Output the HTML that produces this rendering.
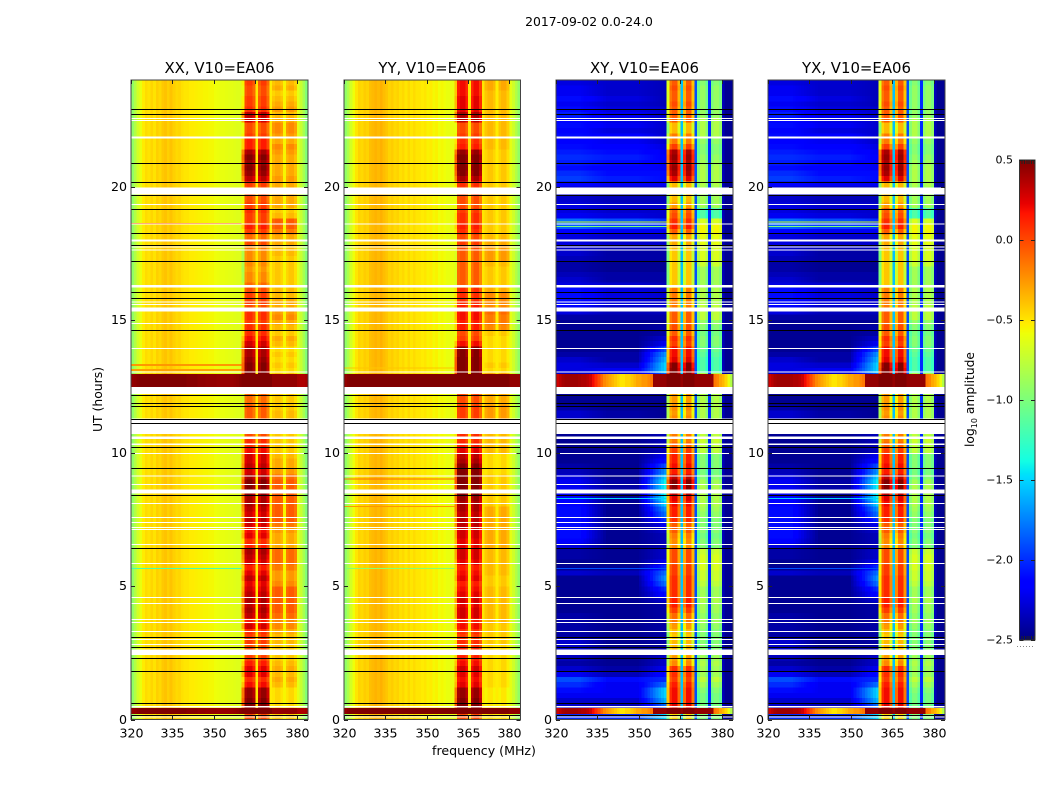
<!DOCTYPE html>
<html>
<head>
<meta charset="utf-8">
<title>2017-09-02 0.0-24.0</title>
<style>
html,body{margin:0;padding:0;background:#fff;width:1050px;height:800px;overflow:hidden}
svg{display:block;font-family:"DejaVu Sans","Liberation Sans",sans-serif;fill:#000}
</style>
</head>
<body>
<svg id="chart" xmlns="http://www.w3.org/2000/svg" width="1050" height="800" viewBox="0 0 1050 800">
  <text x="589" y="26" font-size="12.4" text-anchor="middle">2017-09-02 0.0-24.0</text>
  <text x="484" y="755" font-size="12.6" text-anchor="middle">frequency (MHz)</text>
  <text x="0" y="0" font-size="12.4" text-anchor="middle" transform="translate(102,399.5) rotate(-90)">UT (hours)</text>
  <text x="0" y="0" font-size="12.3" text-anchor="middle" transform="translate(974,399.5) rotate(-90)">log<tspan font-size="8" dy="3">10</tspan><tspan dy="-3"> amplitude</tspan></text>
  <g id="panels"></g>
  <g id="colorbar"></g>
</svg>
<script>
/* Time axis: rows of 0.2 h, five values per hour. Frequency: 64 channels of 1 MHz from 320 MHz. */
const xTickLabels = [320, 335, 350, 365, 380];
const yTickLabels = [0, 5, 10, 15, 20];
const colorbarTicks = [0.5, 0.0, -0.5, -1.0, -1.5, -2.0, -2.5];

const xxSpectrum = [
-0.92,-0.8,-0.68,-0.6,-0.52,-0.47,-0.49,-0.45,-0.49,-0.43,
-0.46,-0.41,-0.39,-0.43,-0.39,-0.43,-0.46,-0.45,-0.48,-0.5,
-0.5,-0.52,-0.52,-0.53,-0.54,-0.54,-0.55,-0.55,-0.56,-0.56,
-0.58,-0.59,-0.6,-0.6,-0.61,-0.62,-0.62,-0.63,-0.64,-0.64,
-0.5,0.05,0.1,0.1,0,-0.5,0,0.1,0.1,-0.05,
-0.52,-0.05,0,0,-0.05,-0.55,-0.05,0,0,-0.08,
-0.62,-0.72,-0.84,-0.98];
const yySpectrum = [
-0.92,-0.82,-0.68,-0.58,-0.5,-0.44,-0.46,-0.42,-0.44,-0.38,
-0.36,-0.34,-0.36,-0.33,-0.37,-0.4,-0.44,-0.42,-0.46,-0.44,
-0.48,-0.46,-0.5,-0.46,-0.5,-0.47,-0.5,-0.5,-0.52,-0.5,
-0.54,-0.52,-0.56,-0.54,-0.58,-0.56,-0.58,-0.6,-0.6,-0.6,
-0.5,0.05,0.1,0.1,0,-0.5,0,0.1,0.1,-0.05,
-0.5,-0.05,0,0,-0.05,-0.52,-0.05,0,0,-0.08,
-0.62,-0.7,-0.8,-0.92];
const crossSpectrum = [
0,0,0,0,0,0,0,0,0,0,0,0,0,0,0,0,0,0,0,0,
0,0,0,0,0,0,0,0,0,0,0,0,0,0,0,0,0,0,0,0,
-0.45,0.05,0.15,0.15,-0.15,-1.55,-0.15,0.15,0.15,-0.2,
-1.9,-0.1,0.05,0.05,-0.1,-2.0,-0.05,0.05,0.05,-0.05,
-2.35,-2.45,-2.45,-2.45];

const xxInner = [
-0.1,0.4,0.45,0.4,0.35,
0.35,0.1,0,0.15,0.15,
0.05,-0.05,-0.1,-0.1,-0.05,
-0.05,0,0.2,0.05,0.25,
0.3,0.25,0.3,0.25,0.2,
0.15,0.25,0.15,0.05,0.2,
0.25,0.3,0.05,0,0.15,
0.1,0.2,0.25,0.2,0.25,
0.3,0.3,0.35,0.4,0.4,
0.3,0.2,0.25,0.2,0.2,
0.1,0,0,-0.1,-0.1,
-0.2,-0.15,-0.15,-0.15,-0.2,
-0.2,-0.2,0.5,0.5,0.5,
0.4,0.4,0.35,0.3,0.3,
0.2,0.1,0,0,-0.05,
0,0,-0.1,-0.05,-0.05,
-0.1,-0.2,-0.3,-0.3,-0.35,
-0.3,-0.3,-0.3,-0.25,-0.1,
-0.2,-0.05,0.05,-0.05,-0.05,
0,-0.05,-0.1,-0.1,-0.1,
-0.05,0.25,0.35,0.4,0.35,
0.4,0.3,0.05,0.05,-0.05,
-0.1,-0.1,0.2,0.25,0,
-0.05,-0.05,-0.1,-0.1,-0.05];
const xxOuter = [
-0.4,0.3,-0.45,-0.45,-0.45,
-0.45,-0.35,-0.3,-0.35,-0.3,
-0.35,-0.4,-0.4,-0.4,-0.35,
-0.35,-0.3,-0.2,-0.2,-0.1,
-0.05,-0.05,-0.05,-0.05,-0.05,
-0.2,-0.25,-0.25,-0.15,-0.1,
-0.1,-0.1,-0.3,-0.3,-0.3,
-0.25,-0.15,-0.05,-0.05,-0.05,
-0.05,-0.05,-0.05,-0.05,-0.05,
-0.1,-0.25,-0.3,-0.3,-0.35,
-0.4,-0.4,-0.4,-0.4,-0.4,
-0.4,-0.35,-0.35,-0.4,-0.4,
-0.4,-0.4,-0.4,-0.4,-0.4,
-0.45,-0.4,-0.45,-0.4,-0.45,
-0.35,-0.3,-0.4,-0.35,-0.3,
-0.2,-0.25,-0.3,-0.3,-0.35,
-0.35,-0.4,-0.4,-0.4,-0.4,
-0.4,-0.4,-0.35,-0.35,-0.3,
-0.3,-0.15,-0.05,-0.05,-0.35,
-0.4,-0.3,-0.3,-0.3,-0.3,
-0.3,-0.25,-0.3,-0.3,-0.3,
-0.3,-0.25,-0.2,-0.3,-0.25,
-0.2,-0.2,-0.3,-0.35,-0.25,
-0.3,-0.35,-0.4,-0.3,-0.35];
const yyInner = [
-0.1,0.4,0.45,0.4,0.35,
0.35,0.15,0.1,0.15,0.2,
0.1,0.05,0,0,0,
-0.05,0,0.1,0.05,0.2,
0.2,0.15,0.2,0.15,0.1,
0.05,0.15,0.1,0.05,0.15,
0.2,0.2,0.15,0.15,0.2,
0.2,0.25,0.25,0.25,0.3,
0.3,0.35,0.4,0.45,0.45,
0.45,0.45,0.4,0.3,0.25,
0.15,0.05,0,0,-0.05,
-0.1,-0.05,-0.05,-0.05,-0.1,
-0.1,-0.1,0.5,0.5,0.5,
0.45,0.45,0.45,0.4,0.4,
0.1,-0.05,-0.1,0.05,0.05,
0.1,0.1,0.05,0,0,
0,-0.15,-0.15,-0.15,-0.15,
-0.15,-0.15,-0.15,-0.1,-0.05,
-0.1,0,0.05,0,0,
-0.05,-0.1,-0.1,-0.1,-0.05,
0,0.3,0.4,0.45,0.4,
0.45,0.35,0.05,0,-0.05,
-0.1,-0.1,0.25,0.3,0.15,
0.15,0.15,0.1,0.1,0.1];
const yyOuter = [
-0.45,0.3,-0.5,-0.5,-0.5,
-0.5,-0.45,-0.45,-0.45,-0.45,
-0.45,-0.45,-0.45,-0.45,-0.4,
-0.4,-0.4,-0.4,-0.35,-0.35,
-0.35,-0.35,-0.35,-0.35,-0.35,
-0.4,-0.4,-0.35,-0.35,-0.35,
-0.35,-0.35,-0.3,-0.3,-0.3,
-0.3,-0.3,-0.3,-0.3,-0.3,
-0.4,-0.4,-0.4,-0.4,-0.4,
-0.4,-0.45,-0.45,-0.45,-0.45,
-0.35,-0.35,-0.35,-0.35,-0.35,
-0.3,-0.25,-0.25,-0.25,-0.3,
-0.3,-0.3,-0.3,-0.3,-0.3,
-0.45,-0.4,-0.45,-0.45,-0.45,
-0.45,-0.45,-0.4,-0.2,-0.15,
-0.15,-0.1,-0.2,-0.2,-0.2,
-0.3,-0.4,-0.4,-0.4,-0.4,
-0.35,-0.25,-0.25,-0.25,-0.3,
-0.35,-0.4,-0.4,-0.4,-0.4,
-0.4,-0.4,-0.4,-0.4,-0.4,
-0.4,-0.4,-0.4,-0.4,-0.4,
-0.4,-0.4,-0.35,-0.35,-0.35,
-0.35,-0.35,-0.35,-0.35,-0.35,
-0.35,-0.35,-0.35,-0.3,-0.3];
const crossInner = [
-0.6,0.4,0.1,0.05,0.05,
0.05,0,-0.1,-0.05,-0.05,
-0.35,-0.4,-0.45,-0.5,-0.5,
-0.55,-0.5,-0.4,-0.3,-0.25,
-0.1,0,0,-0.05,-0.05,
-0.05,-0.05,-0.1,-0.1,-0.15,
-0.15,-0.15,-0.35,-0.35,-0.3,
-0.2,-0.2,-0.05,0,0,
0.05,0.1,0.2,0.35,0.35,
0.2,0,0.05,0,0,
-0.1,-0.2,-0.3,-0.3,-0.3,
-0.4,-0.35,-0.4,-0.35,-0.4,
-0.4,-0.4,0.5,0.5,0.5,
0.4,0.35,0.1,0.05,0.05,
-0.1,-0.05,-0.2,-0.15,-0.2,
-0.2,-0.2,-0.3,-0.3,-0.3,
-0.3,-0.55,-0.55,-0.55,-0.55,
-0.55,-0.55,-0.55,-0.5,-0.45,
-0.45,-0.2,0,-0.05,-0.15,
-0.2,-0.4,-0.5,-0.5,-0.5,
-0.5,0.1,0.25,0.3,0.25,
0.3,0.25,-0.1,-0.3,-0.3,
-0.5,-0.5,-0.2,-0.2,-0.2,
-0.15,-0.2,-0.2,-0.15,-0.2];
const crossOuter = [
-1.0,-0.6,-1.05,-1.05,-1.05,
-1.0,-0.9,-0.8,-0.9,-0.9,
-0.85,-0.9,-0.95,-1.0,-1.0,
-1.0,-1.0,-0.95,-0.9,-0.95,
-0.9,-0.9,-0.85,-0.9,-0.9,
-0.8,-0.75,-0.75,-0.7,-0.7,
-0.7,-0.75,-1.0,-1.0,-1.05,
-1.0,-1.0,-1.0,-0.95,-0.9,
-0.85,-0.85,-0.85,-0.85,-0.9,
-1.0,-1.05,-1.0,-1.0,-1.0,
-0.8,-0.8,-0.75,-0.8,-0.8,
-0.85,-0.85,-0.85,-0.85,-0.85,
-0.85,-0.85,-0.85,-0.85,-0.85,
-1.2,-1.2,-1.2,-1.15,-1.1,
-1.0,-1.0,-1.05,-1.0,-0.95,
-0.8,-0.8,-0.8,-0.85,-0.85,
-0.85,-0.9,-0.9,-0.9,-0.9,
-0.75,-0.7,-0.7,-0.7,-0.65,
-0.65,-0.6,-0.6,-0.7,-1.2,
-1.2,-0.9,-0.9,-0.9,-0.9,
-0.85,-0.85,-0.85,-0.85,-0.9,
-0.95,-1.0,-1.0,-0.95,-0.85,
-0.85,-0.85,-0.85,-0.95,-0.95,
-0.95,-0.95,-0.95,-0.95,-1.0];
const crossLow = [
-2.0,-1.2,-2.3,-2.3,-2.2,
-2.1,-2.0,-1.9,-2.2,-2.3,
-2.4,-2.35,-2.3,-2.3,-2.3,
-2.4,-2.4,-2.4,-2.4,-2.4,
-2.45,-2.45,-2.45,-2.45,-2.45,
-2.45,-2.45,-2.3,-2.45,-2.45,
-2.4,-2.4,-2.25,-2.15,-2.1,
-2.1,-2.1,-2.1,-2.1,-2.1,
-2.15,-2.15,-2.2,-2.2,-2.2,
-2.25,-2.35,-2.4,-2.45,-2.45,
-2.45,-2.45,-2.45,-2.45,-2.45,
-2.45,-2.3,-2.3,-2.4,-2.45,
-2.45,-2.45,-2.4,-2.3,-2.3,
-2.25,-2.25,-2.3,-2.4,-2.45,
-2.45,-2.45,-2.45,-2.45,-2.45,
-2.4,-2.25,-2.15,-2.1,-2.1,
-2.1,-2.25,-2.3,-2.35,-2.4,
-2.4,-2.35,-2.3,-2.3,-2.25,
-2.25,-2.15,-1.85,-1.8,-2.2,
-2.25,-2.25,-2.3,-2.3,-2.3,
-2.15,-1.95,-2.0,-2.1,-2.05,
-2.0,-2.05,-2.1,-2.15,-2.1,
-2.15,-2.1,-2.15,-2.05,-2.1,
-2.2,-2.1,-2.2,-2.2,-2.25];
const crossMid = [
-2.0,-1.5,-2.35,-2.3,-2.2,
-2.2,-2.2,-2.1,-2.35,-2.4,
-2.45,-2.45,-2.45,-2.45,-2.45,
-2.45,-2.45,-2.45,-2.45,-2.45,
-2.45,-2.45,-2.45,-2.45,-2.45,
-2.45,-2.45,-2.35,-2.45,-2.45,
-2.45,-2.45,-2.45,-2.45,-2.45,
-2.45,-2.45,-2.45,-2.45,-2.45,
-2.45,-2.45,-2.45,-2.4,-2.4,
-2.45,-2.45,-2.45,-2.45,-2.45,
-2.45,-2.45,-2.45,-2.45,-2.45,
-2.45,-2.4,-2.4,-2.45,-2.45,
-2.45,-2.45,-2.4,-2.3,-2.3,
-2.2,-2.3,-2.4,-2.4,-2.45,
-2.45,-2.45,-2.45,-2.45,-2.45,
-2.4,-2.35,-2.3,-2.25,-2.25,
-2.25,-2.3,-2.4,-2.4,-2.45,
-2.45,-2.4,-2.4,-2.35,-2.3,
-2.3,-2.2,-1.95,-1.9,-2.25,
-2.3,-2.3,-2.35,-2.35,-2.35,
-2.2,-2.05,-2.1,-2.15,-2.1,
-2.05,-2.1,-2.15,-2.2,-2.15,
-2.25,-2.2,-2.25,-2.2,-2.25,
-2.3,-2.25,-2.3,-2.3,-2.3];
const crossShoulder = [
-1.5,-1.2,-1.8,-1.6,-1.5,
-1.5,-1.8,-2.0,-2.1,-2.2,
-2.3,-2.3,-2.4,-2.4,-2.4,
-2.4,-2.4,-2.4,-2.4,-2.4,
-2.4,-2.4,-2.3,-2.1,-2.0,
-1.8,-1.7,-1.8,-2.0,-2.2,
-2.3,-2.3,-2.35,-2.35,-2.35,
-2.3,-2.2,-2.0,-1.8,-1.7,
-1.5,-1.4,-1.4,-1.4,-1.4,
-1.5,-1.7,-1.9,-2.1,-2.2,
-2.35,-2.35,-2.35,-2.35,-2.35,
-2.45,-2.45,-2.45,-2.45,-2.45,
-2.45,-2.45,-2.3,-2.1,-1.8,
-1.5,-1.5,-1.6,-1.7,-1.9,
-2.2,-2.3,-2.4,-2.4,-2.45,
-2.4,-2.35,-2.3,-2.3,-2.3,
-2.3,-2.35,-2.4,-2.4,-2.45,
-2.45,-2.4,-2.4,-2.35,-2.3,
-2.3,-2.2,-2.0,-2.0,-2.3,
-2.3,-2.3,-2.35,-2.35,-2.35,
-2.2,-2.1,-2.1,-2.2,-2.2,
-2.15,-2.2,-2.25,-2.3,-2.3,
-2.3,-2.3,-2.3,-2.3,-2.3,
-2.35,-2.35,-2.35,-2.35,-2.35];

/* Strong-interference spectra, 64 channels, shown in the rfiBands time ranges. */
const xxRfi = [
0.45,0.46,0.48,0.5,0.5,0.5,0.5,0.5,0.5,0.5,
0.5,0.5,0.5,0.5,0.5,0.5,0.5,0.5,0.5,0.5,
0.48,0.48,0.48,0.48,0.46,0.46,0.46,0.45,0.45,0.45,
0.45,0.44,0.44,0.44,0.44,0.44,0.44,0.45,0.46,0.48,
0.5,0.5,0.5,0.5,0.5,0.5,0.5,0.5,0.5,0.5,
0.5,0.45,0.45,0.45,0.45,0.45,0.45,0.45,0.45,0.45,
0.4,0.38,0.38,0.4];
const yyRfi = [
0.45,0.48,0.5,0.5,0.5,0.5,0.5,0.5,0.5,0.5,
0.5,0.5,0.5,0.5,0.5,0.5,0.5,0.5,0.5,0.5,
0.5,0.5,0.5,0.5,0.5,0.5,0.5,0.5,0.5,0.5,
0.5,0.5,0.5,0.5,0.5,0.5,0.5,0.5,0.5,0.5,
0.5,0.5,0.5,0.5,0.5,0.5,0.5,0.5,0.5,0.5,
0.5,0.5,0.5,0.5,0.5,0.5,0.5,0.5,0.5,0.5,
0.45,0.45,0.45,0.45];
const crossRfi = [
0.3,0.35,0.4,0.42,0.42,0.42,0.42,0.42,0.4,0.38,
0.38,0.35,0.3,0.2,0.1,0,-0.1,-0.2,-0.25,-0.3,
-0.35,-0.4,-0.45,-0.5,-0.5,-0.45,-0.45,-0.4,-0.35,-0.3,
-0.3,-0.25,-0.25,-0.2,-0.15,0.45,0.45,0.45,0.45,0.45,
0.5,0.5,0.5,0.5,0.5,0.45,0.5,0.5,0.5,0.5,
0.45,0.45,0.45,0.45,0.45,0.45,0.45,-0.15,-0.2,-0.3,
-0.35,-0.45,-0.6,-0.8];
const rfiBands = [[0.2, 0.44], [12.48, 12.96]];

/* Thin horizontal streaks outside the main bands: [UT hours, log amplitude]. */
const xxStreaks = [[18.62, -0.05], [13.32, -0.25], [13.28, -0.25], [13.14, -0.28], [13.1, -0.28], [5.66, -1.2], [5.86, -0.95]];
const yyStreaks = [[9.42, -0.05], [9.02, -0.1], [8.62, -0.25], [8.0, -0.25], [5.66, -0.95], [13.2, -0.4]];
const crossStreaks = [[18.67, -0.7], [18.5, -1.0], [8.3, -1.5], [5.66, -1.9]];

/* Flagged time ranges [start, end] in UT hours, shown white. */
const flaggedRanges = [
[22.54,22.58],[22.46,22.5],[21.8,21.88],[19.71,19.96],[19.31,19.35],[18.57,18.61],
[17.94,18.02],[17.71,17.75],[17.6,17.64],[16.22,16.3],[15.65,15.69],[15.56,15.6],
[15.32,15.46],[14.84,14.88],[13.9,13.94],[13.02,13.06],[12.21,12.48],[10.71,11.29],
[10.52,10.62],[10.3,10.36],[9.96,10.0],[9.12,9.16],[8.8,8.84],[8.48,8.63],[8.09,8.13],
[7.56,7.6],[7.37,7.41],[7.19,7.23],[7.11,7.15],[6.55,6.59],[5.84,5.88],[4.56,4.6],
[4.34,4.38],[3.74,3.78],[3.62,3.66],[3.29,3.33],[2.99,3.03],[2.8,2.84],[2.42,2.63],
[0.46,0.5],[0.08,0.12]];
/* Black separator lines in UT hours. */
const separatorLines = [
22.92,22.73,20.89,20.18,19.7,19.15,18.27,17.8,17.19,16.06,15.83,14.63,12.19,11.89,
11.76,11.29,11.11,10.24,9.42,8.42,6.42,3.08,2.72,2.32,1.81,0.61,0.17];

const panels = [
  {title:'XX, V10=EA06', key:'xx', x0:131, x1:308, cross:false, spectrum:xxSpectrum, inner:xxInner, outer:xxOuter, rfi:xxRfi, streaks:xxStreaks},
  {title:'YY, V10=EA06', key:'yy', x0:344, x1:520.5, cross:false, spectrum:yySpectrum, inner:yyInner, outer:yyOuter, rfi:yyRfi, streaks:yyStreaks},
  {title:'XY, V10=EA06', key:'xy', x0:556, x1:733, cross:true, spectrum:crossSpectrum, inner:crossInner, outer:crossOuter, rfi:crossRfi, streaks:crossStreaks},
  {title:'YX, V10=EA06', key:'yx', x0:768, x1:945, cross:true, spectrum:crossSpectrum, inner:crossInner, outer:crossOuter, rfi:crossRfi, streaks:crossStreaks}
];

const NS = 'http://www.w3.org/2000/svg';
const TOP = 80, BOTTOM = 719.5, F0 = 320, F1 = 384, TMAX = 24, VMIN = -2.5, VMAX = 0.5;
const yScale = t => BOTTOM - t * (BOTTOM - TOP) / TMAX;
const xScale = (p, f) => p.x0 + (f - F0) * (p.x1 - p.x0) / (F1 - F0);

function clamp01(v){return Math.max(0, Math.min(1, v));}
function jet(v){
  const x = clamp01((v - VMIN) / (VMAX - VMIN));
  const r = x < .35 ? 0 : x < .66 ? (x - .35) / .31 : x < .89 ? 1 : 1 - (x - .89) / .11 * .5;
  const g = x < .125 ? 0 : x < .375 ? (x - .125) / .25 : x < .64 ? 1 : x < .91 ? 1 - (x - .64) / .27 : 0;
  const b = x < .11 ? .5 + x / .11 * .5 : x < .34 ? 1 : x < .65 ? 1 - (x - .34) / .31 : 0;
  return 'rgb(' + Math.round(r * 255) + ',' + Math.round(g * 255) + ',' + Math.round(b * 255) + ')';
}
function rect(parent, x, y, w, h, fill){
  const el = document.createElementNS(NS, 'rect');
  el.setAttribute('x', x.toFixed(2));
  el.setAttribute('y', y.toFixed(2));
  el.setAttribute('width', w.toFixed(2));
  el.setAttribute('height', h.toFixed(2));
  el.setAttribute('fill', fill);
  el.setAttribute('shape-rendering', 'crispEdges');
  parent.appendChild(el);
  return el;
}
function cellValue(p, ch, row){
  const f = F0 + ch;
  const inner = (f >= 360 && f < 365) || (f >= 366 && f < 370);
  const outer = (f >= 371 && f < 375) || (f >= 376 && f < 380);
  if (inner) return p.inner[row] + p.spectrum[ch];
  if (outer) return p.outer[row] + p.spectrum[ch];
  if (!p.cross) return p.spectrum[ch];
  if (f < 328) return crossLow[row];
  if (f < 338) return crossLow[row] + (crossMid[row] - crossLow[row]) * (f - 328) / 10;
  if (f < 350) return crossMid[row];
  if (f < 360) return crossMid[row] + (crossShoulder[row] - crossMid[row]) * (f - 349) / 10;
  return p.spectrum[ch];
}

const panelRoot = document.getElementById('panels');
panels.forEach(function(p){
  const g = document.createElementNS(NS, 'g');
  
  
  const frag = document.createDocumentFragment();
  const rows = p.inner.length;
  for (let r = 0; r < rows; r++){
    const yTop = yScale((r + 1) * TMAX / rows), yBot = yScale(r * TMAX / rows);
    for (let c = 0; c < F1 - F0; c++){
      const xa = xScale(p, F0 + c), xb = xScale(p, F0 + c + 1);
      const el = rect(frag, xa, yTop, xb - xa, yBot - yTop, jet(cellValue(p, c, r)));
      
      
    }
  }
  rfiBands.forEach(function(b){
    for (let c = 0; c < F1 - F0; c++){
      const xa = xScale(p, F0 + c), xb = xScale(p, F0 + c + 1);
      const el = rect(frag, xa, yScale(b[1]), xb - xa, yScale(b[0]) - yScale(b[1]), jet(p.rfi[c]));
      
      
    }
  });
  p.streaks.forEach(function(s){
    const el = rect(frag, xScale(p, F0), yScale(s[0]) - 0.5, xScale(p, 360) - xScale(p, F0), 1, jet(s[1]));
    
    
  });
  flaggedRanges.forEach(function(b){
    const el = rect(frag, p.x0, yScale(b[1]), p.x1 - p.x0, Math.max(1, yScale(b[0]) - yScale(b[1])), '#fff');
    
    
  });
  separatorLines.forEach(function(t){
    const el = rect(frag, p.x0, Math.round(yScale(t)), p.x1 - p.x0, 1, '#000');
    
    
  });
  /* frame */
  const frame = rect(frag, p.x0, TOP, p.x1 - p.x0, BOTTOM - TOP, 'none');
  frame.setAttribute('stroke', '#444');
  frame.setAttribute('stroke-width', '1');
  
  
  /* x ticks */
  xTickLabels.forEach(function(v){
    const x = Math.round(xScale(p, v)) + 0.5;
    const t1 = rect(frag, x - .5, TOP, 1, 4, '#222');
    
    
    const t2 = rect(frag, x - .5, BOTTOM - 4, 1, 4, '#222');
    
    
    const lab = document.createElementNS(NS, 'text');
    lab.setAttribute('x', x);
    lab.setAttribute('y', BOTTOM + 18);
    lab.setAttribute('font-size', '12.6');
    lab.setAttribute('text-anchor', 'middle');
    
    
    lab.textContent = v;
    frag.appendChild(lab);
  });
  /* y ticks */
  yTickLabels.forEach(function(v){
    const y = Math.round(yScale(v));
    const t1 = rect(frag, p.x0, y, 4, 1, '#222');
    
    
    const t2 = rect(frag, p.x1 - 4, y, 4, 1, '#222');
    
    
    const lab = document.createElementNS(NS, 'text');
    lab.setAttribute('x', p.x0 - 4);
    lab.setAttribute('y', y + 4);
    lab.setAttribute('font-size', '12.6');
    lab.setAttribute('text-anchor', 'end');
    
    
    lab.textContent = v;
    frag.appendChild(lab);
  });
  const title = document.createElementNS(NS, 'text');
  title.setAttribute('x', (p.x0 + p.x1) / 2);
  title.setAttribute('y', 73);
  title.setAttribute('font-size', '14.9');
  title.setAttribute('text-anchor', 'middle');
  
  
  title.textContent = p.title;
  frag.appendChild(title);
  g.appendChild(frag);
  panelRoot.appendChild(g);
});

/* Colorbar */
const cb = document.getElementById('colorbar');
const CBX = 1019.5, CBW = 15.5, CBT = 160, CBB = 640;
const cbY = v => CBB - (v - VMIN) / (VMAX - VMIN) * (CBB - CBT);
for (let i = 0; i < 240; i++){
  const v0 = VMIN + i * (VMAX - VMIN) / 240, v1 = VMIN + (i + 1) * (VMAX - VMIN) / 240;
  const el = rect(cb, CBX, cbY(v1), CBW, cbY(v0) - cbY(v1) + 0.5, jet((v0 + v1) / 2));
  
  
}
const cbFrame = rect(cb, CBX, CBT, CBW, CBB - CBT, 'none');
cbFrame.setAttribute('stroke', '#333');


for (let k = 0; k < 6; k++){
  const mx = CBX + 2 + k * 2.4;
  const mt = rect(cb, mx, CBT, 1, 4, '#222');
  
  
  const mb = rect(cb, mx, CBB - 4, 1, 4, '#222');
  
  
}
const dots = document.createElementNS(NS, 'line');
dots.setAttribute('x1', 1017);
dots.setAttribute('x2', 1035);
dots.setAttribute('y1', 646.5);
dots.setAttribute('y2', 646.5);
dots.setAttribute('stroke', '#888');
dots.setAttribute('stroke-width', '1');
dots.setAttribute('stroke-dasharray', '1 2');


cb.appendChild(dots);
colorbarTicks.forEach(function(v){
  const y = Math.round(cbY(v));
  const t1 = rect(cb, CBX, y, 4, 1, '#222');
  
  
  const t2 = rect(cb, CBX + CBW - 4, y, 4, 1, '#222');
  
  
  const lab = document.createElementNS(NS, 'text');
  lab.setAttribute('x', 1013);
  lab.setAttribute('y', y + 3.5);
  lab.setAttribute('font-size', '11');
  lab.setAttribute('text-anchor', 'end');
  
  
  lab.textContent = v.toFixed(1).replace('-', '\u2212');
  cb.appendChild(lab);
});
</script>
</body>
</html>
